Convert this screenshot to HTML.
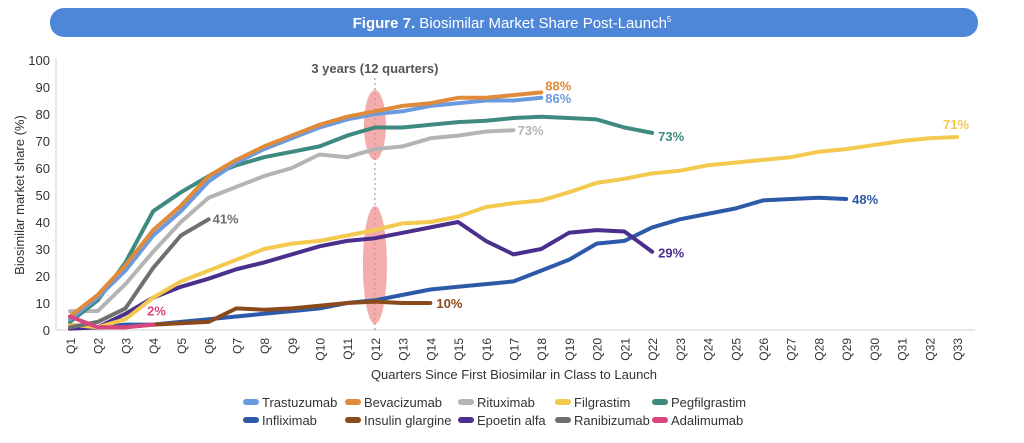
<!DOCTYPE html>
<html><head><meta charset="utf-8"><style>
body{margin:0;background:#fff;width:1024px;height:438px;overflow:hidden;font-family:"Liberation Sans",sans-serif}
</style></head><body>
<svg id="chart" width="1024" height="438" xmlns="http://www.w3.org/2000/svg" font-family="Liberation Sans, sans-serif">
<rect x="50" y="8" width="928" height="29" rx="14" fill="#4f87d8"/>
<text x="512" y="28" text-anchor="middle" fill="#fff" font-size="15"><tspan font-weight="bold">Figure 7.</tspan> Biosimilar Market Share Post-Launch<tspan font-size="8" dy="-6">5</tspan></text>
<g id="plot"></g>
</svg>
<script>
const quarters = Array.from({length:33},(_,i)=>'Q'+(i+1));
const yTicks = [0,10,20,30,40,50,60,70,80,90,100];
const trastuzumab = [4,12,22,35,44,55,62,67,71,75,78,80,81,83,84,85,85,86];
const bevacizumab = [5,13,24,37,46,57,63,68,72,76,79,81,83,84,86,86,87,88];
const rituximab = [7,7,17,29,40,49,53,57,60,65,64,67,68,71,72,73.5,74];
const filgrastim = [2,1,4,12,18,22,26,30,32,33,35,37,39.5,40,42,45.5,47,48,51,54.5,56,58,59,61,62,63,64,66,67,68.5,70,71,71.5];
const pegfilgrastim = [3,11,25,44,51,57,61,64,66,68,72,75,75,76,77,77.5,78.5,79,78.5,78,75,73];
const infliximab = [1,1,2,2,3,4,5,6,7,8,10,11,13,15,16,17,18,22,26,32,33,38,41,43,45,48,48.5,49,48.5];
const insulin = [0.5,1,1,2,2.5,3,8,7.5,8,9,10,10.5,10,10];
const epoetin = [0.5,1,6,12,16,19,22.5,25,28,31,33,34,36,38,40,33,28,30,36,37,36.5,29];
const ranibizumab = [1,3,8,23,35,41];
const adalimumab = [5,1,1,2];
const seriesNames = ['Trastuzumab','Bevacizumab','Rituximab','Filgrastim','Pegfilgrastim','Infliximab','Insulin glargine','Epoetin alfa','Ranibizumab','Adalimumab'];
const seriesData = [trastuzumab,bevacizumab,rituximab,filgrastim,pegfilgrastim,infliximab,insulin,epoetin,ranibizumab,adalimumab];
const colors = ['#6a9be0','#e08a3c','#b4b4b4','#f3c94f','#3f8a80','#2d5aa8','#8b4a1c','#4a2f8c','#6f6f6f','#d9457f'];
const endLabels = ['86%','88%','73%','71%','73%','48%','10%','29%','41%','2%'];

const NS='http://www.w3.org/2000/svg';
const g=document.getElementById('plot');
const x0=70, dx=27.72, y0=330, yk=2.7;
const X=i=>x0+i*dx, Y=v=>y0-v*yk;
function el(t,a){const e=document.createElementNS(NS,t);for(const k in a)e.setAttribute(k,a[k]);g.appendChild(e);return e;}

let ax=el('line',{x1:56,y1:Y(0),x2:975,y2:Y(0),stroke:'#d0d0d0','stroke-width':1});


let ay=el('line',{x1:56,y1:Y(0),x2:56,y2:Y(100)-2,stroke:'#d0d0d0','stroke-width':1});


yTicks.forEach(v=>{
  const t=el('text',{x:50,y:Y(v)+5,'text-anchor':'end','font-size':13,fill:'#333'});t.textContent=v;
  
  
});
quarters.forEach((q,i)=>{
  const t=el('text',{transform:`translate(${X(i)+5},${Y(0)+8}) rotate(-90)`,'text-anchor':'end','font-size':12,fill:'#333'});t.textContent=q;
  
  
});
let yt=el('text',{transform:`translate(24,195) rotate(-90)`,'text-anchor':'middle','font-size':13,fill:'#333'});yt.textContent='Biosimilar market share (%)';


let xt=el('text',{x:514,y:379,'text-anchor':'middle','font-size':13,fill:'#333'});xt.textContent='Quarters Since First Biosimilar in Class to Launch';



let dl=el('line',{x1:X(11),y1:78,x2:X(11),y2:Y(0),stroke:'#888','stroke-dasharray':'2,3','stroke-width':1});


let mt=el('text',{x:X(11),y:73,'text-anchor':'middle','font-size':13,'font-weight':'bold',fill:'#555'});mt.textContent='3 years (12 quarters)';


let e1=el('ellipse',{cx:X(11),cy:125,rx:11,ry:35,fill:'#ee8a8a','fill-opacity':0.7});


let e2=el('ellipse',{cx:X(11),cy:265,rx:12,ry:59,fill:'#ee8a8a','fill-opacity':0.7});



const order=[5,6,7,3,2,8,4,0,1,9];
const labOff={0:[4,5],1:[4,-2],2:[4,5],3:[-14,-8],4:[6,8],5:[6,5],6:[6,5],7:[6,6],8:[4,4],9:[-6,-9]};
order.forEach(s=>{
  const d=seriesData[s];
  const p=el('polyline',{points:d.map((v,i)=>X(i)+','+Y(v)).join(' '),fill:'none',stroke:colors[s],'stroke-width':4,'stroke-linejoin':'round','stroke-linecap':'round'});
  
  
  const n=d.length-1,o=labOff[s];
  const t=el('text',{x:X(n)+o[0],y:Y(d[n])+o[1],'font-size':13,'font-weight':'bold',fill:colors[s]});t.textContent=endLabels[s];
  
  
});

const legX=[243,345,458,555,652];
seriesNames.forEach((n,i)=>{
  const lx=legX[i%5], ly=i<5?402:420;
  const r=el('rect',{x:lx,y:ly-3,width:16,height:6,rx:3,fill:colors[i]});
  
  
  const t=el('text',{x:lx+19,y:ly+5,'font-size':13,fill:'#333'});t.textContent=n;
  
  
});
</script>
</body></html>
